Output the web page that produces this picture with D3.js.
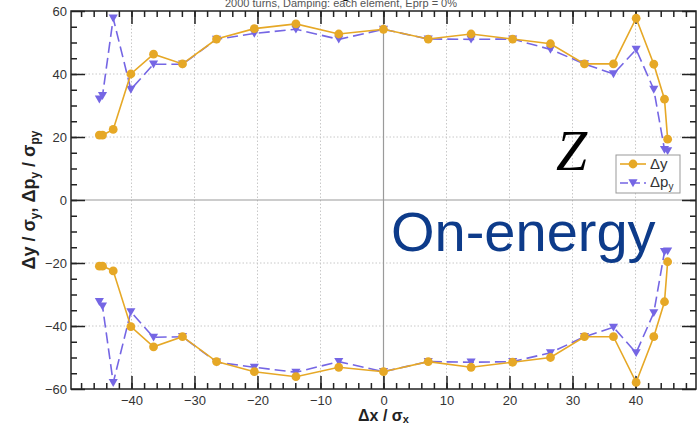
<!DOCTYPE html>
<html>
<head>
<meta charset="UTF-8"/>
<script src="https://d3js.org/d3.v7.min.js"></script>
<style>
body { margin: 0; background: #fff; }
text { font-family: "Liberation Sans", Arial, sans-serif; }
</style>
</head>
<body>
<svg id='big' width=698 height=427></svg>
<script>
'use strict';

// beam offsets, shared by all four curves
var xs = [-45.1, -44.6, -42.9, -40.1, -36.5, -31.9, -26.5, -20.5, -13.9, -7.1, 0,
          7.1, 13.9, 20.5, 26.5, 31.9, 36.5, 40.1, 42.9, 44.6, 45.1];

var dyUpper  = [20.6, 20.6, 22.4, 40.0, 46.3, 43.2, 51.1, 54.4, 55.9, 52.7, 54.2,
                51.1, 52.7, 51.1, 49.6, 43.2, 43.2, 57.7, 43.1, 32.0, 19.3];
var dpyUpper = [32.0, 33.1, 57.7, 35.1, 43.1, 43.1, 51.0, 52.9, 54.2, 51.0, 54.2,
                51.1, 51.0, 51.1, 47.8, 43.2, 40.0, 47.8, 35.1, 16.0, 15.6];
var dyLower  = [-21.0, -21.0, -22.5, -40.2, -46.6, -43.4, -51.3, -54.5, -56.1, -53.1, -54.5,
                -51.3, -53.1, -51.5, -50.0, -43.4, -43.4, -57.9, -43.4, -32.3, -19.6];
var dpyLower = [-32.3, -33.7, -58.0, -35.5, -43.6, -43.4, -51.5, -53.1, -54.7, -51.3, -54.5,
                -51.3, -51.5, -51.3, -48.5, -43.4, -40.4, -48.5, -35.8, -16.4, -16.2];

var xTicks = [-40, -30, -20, -10, 0, 10, 20, 30, 40];
var yTicks = [-60, -40, -20, 0, 20, 40, 60];

var orange = '#e6a826';
var blue = '#7566e4';

var svg = d3.select('#big');
var pLeft = 71, pRight = 696, pTop = 11, pBottom = 389;

var sx = d3.scaleLinear().domain([-49.6, 49.6]).range([pLeft, pRight]);
var sy = d3.scaleLinear().domain([-60, 60]).range([pBottom, pTop]);

// title, mostly cut off at the top
svg.append('text')
  .attr('x', 346).attr('y', -2)
  .attr('text-anchor', 'middle')
  .attr('font-size', 16).attr('font-weight', 'bold')
  .attr('fill', '#111')
  .text('g');
svg.append('text')
  .attr('x', 341).attr('y', 7)
  .attr('text-anchor', 'middle')
  .attr('font-size', 11)
  .attr('fill', '#555')
  .text('2000 turns, Damping: each element, Eprp = 0%');

// grid
svg.append('g').selectAll('line')
  .data(xTicks.filter(function(d){ return d != 0; }))
  .enter().append('line')
  .attr('x1', function(d){ return sx(d); })
  .attr('x2', function(d){ return sx(d); })
  .attr('y1', pTop).attr('y2', pBottom)
  .attr('stroke', '#c8c8c8').attr('stroke-dasharray', '1.5,2');
svg.append('g').selectAll('line')
  .data(yTicks.filter(function(d){ return d != 0 && Math.abs(d) != 60; }))
  .enter().append('line')
  .attr('y1', function(d){ return sy(d); })
  .attr('y2', function(d){ return sy(d); })
  .attr('x1', pLeft).attr('x2', pRight)
  .attr('stroke', '#c8c8c8').attr('stroke-dasharray', '1.5,2');

// zero lines
svg.append('line')
  .attr('x1', sx(0)).attr('x2', sx(0)).attr('y1', pTop).attr('y2', pBottom)
  .attr('stroke', '#9a9a9a').attr('stroke-width', 1.2);
svg.append('line')
  .attr('x1', pLeft).attr('x2', pRight).attr('y1', sy(0)).attr('y2', sy(0))
  .attr('stroke', '#9a9a9a').attr('stroke-width', 1.2);

// axes, ticks pointing inward
function axisStyle(g){
  g.select('.domain').remove();
  g.selectAll('.tick line').attr('stroke', '#222').attr('stroke-width', 1.5);
  g.selectAll('.tick text').attr('font-size', 13).attr('fill', '#333');
}

var xMinor = d3.range(-48, 49, 2);
var yMinor = d3.range(-55, 56, 5);

svg.append('g').attr('transform', 'translate(0,' + pBottom + ')')
  .call(d3.axisBottom(sx).tickValues(xMinor).tickSize(-6).tickFormat(''))
  .call(axisStyle);
svg.append('g').attr('transform', 'translate(0,' + pBottom + ')')
  .call(d3.axisBottom(sx).tickValues(xTicks).tickSize(-13).tickPadding(7))
  .call(axisStyle);
svg.append('g').attr('transform', 'translate(0,' + pTop + ')')
  .call(d3.axisTop(sx).tickValues(xMinor).tickSize(-6).tickFormat(''))
  .call(axisStyle);
svg.append('g').attr('transform', 'translate(0,' + pTop + ')')
  .call(d3.axisTop(sx).tickValues(xTicks).tickSize(-13).tickFormat(''))
  .call(axisStyle);

svg.append('g').attr('transform', 'translate(' + pLeft + ',0)')
  .call(d3.axisLeft(sy).tickValues(yMinor).tickSize(-6).tickFormat(''))
  .call(axisStyle);
svg.append('g').attr('transform', 'translate(' + pLeft + ',0)')
  .call(d3.axisLeft(sy).tickValues(yTicks).tickSize(-14).tickPadding(4))
  .call(axisStyle);
svg.append('g').attr('transform', 'translate(' + pRight + ',0)')
  .call(d3.axisRight(sy).tickValues(yMinor).tickSize(-6).tickFormat(''))
  .call(axisStyle);
svg.append('g').attr('transform', 'translate(' + pRight + ',0)')
  .call(d3.axisRight(sy).tickValues(yTicks).tickSize(-14).tickFormat(''))
  .call(axisStyle);

// frame
svg.append('rect')
  .attr('x', pLeft).attr('y', pTop)
  .attr('width', pRight - pLeft).attr('height', pBottom - pTop)
  .attr('fill', 'none').attr('stroke', '#222').attr('stroke-width', 1.5);

// curves
var line = d3.line()
  .x(function(d){ return sx(d[0]); })
  .y(function(d){ return sy(d[1]); });

var tri = d3.symbol().type(d3.symbolTriangle).size(36);

function drawSeries(ys, color, dashed){
  var pts = xs.map(function(x, i){ return [x, ys[i]]; });
  svg.append('path')
    .datum(pts)
    .attr('d', line)
    .attr('fill', 'none')
    .attr('stroke', color)
    .attr('stroke-width', 1.6)
    .attr('stroke-dasharray', dashed ? '11,5' : null);
  if(dashed){
    svg.append('g').selectAll('path')
      .data(pts).enter().append('path')
      .attr('d', tri)
      .attr('transform', function(d){
        return 'translate(' + sx(d[0]) + ',' + (sy(d[1]) - 1) + ') rotate(180)';
      })
      .attr('fill', color);
  }else{
    svg.append('g').selectAll('circle')
      .data(pts).enter().append('circle')
      .attr('cx', function(d){ return sx(d[0]); })
      .attr('cy', function(d){ return sy(d[1]); })
      .attr('r', 4.4)
      .attr('fill', color);
  }
}

drawSeries(dpyUpper, blue, true);
drawSeries(dyUpper, orange, false);
drawSeries(dpyLower, blue, true);
drawSeries(dyLower, orange, false);

// annotations
svg.append('text')
  .attr('x', 556).attr('y', 170)
  .style('font-family', '"Liberation Serif", "DejaVu Serif", serif')
  .style('font-style', 'italic')
  .attr('font-size', 56)
  .attr('fill', '#000')
  .text('Z');

svg.append('text')
  .attr('x', 391).attr('y', 251)
  .attr('font-size', 56)
  .attr('fill', '#0d3b8a')
  .text('On-energy');

// legend
var lg = svg.append('g').attr('transform', 'translate(616,155)');
lg.append('rect')
  .attr('width', 64).attr('height', 38)
  .attr('fill', '#fff').attr('stroke', '#999').attr('stroke-width', 1);
lg.append('line').attr('x1', 4).attr('x2', 30).attr('y1', 9).attr('y2', 9)
  .attr('stroke', orange).attr('stroke-width', 1.6);
lg.append('circle').attr('cx', 17).attr('cy', 9).attr('r', 4.4).attr('fill', orange);
lg.append('line').attr('x1', 4).attr('x2', 30).attr('y1', 28).attr('y2', 28)
  .attr('stroke', blue).attr('stroke-width', 1.6).attr('stroke-dasharray', '8,4');
lg.append('path').attr('d', tri)
  .attr('transform', 'translate(17,27) rotate(180)').attr('fill', blue);
lg.append('text').attr('x', 34).attr('y', 14).attr('font-size', 15).attr('fill', '#333')
  .text('Δy');
var t2 = lg.append('text').attr('x', 34).attr('y', 32).attr('font-size', 15).attr('fill', '#333');
t2.append('tspan').text('Δp');
t2.append('tspan').attr('font-size', 10).attr('dy', 3).text('y');

// axis titles
var xl = svg.append('text')
  .attr('x', sx(0)).attr('y', 421)
  .attr('text-anchor', 'middle')
  .attr('font-size', 16).attr('font-weight', 'bold').attr('fill', '#222');
xl.append('tspan').text('Δx / σ');
xl.append('tspan').attr('font-size', 11).attr('dy', 2).text('x');

var yl = svg.append('text')
  .attr('transform', 'translate(35,' + sy(0) + ') rotate(-90)')
  .attr('text-anchor', 'middle')
  .attr('font-size', 18).attr('font-weight', 'bold').attr('fill', '#222');
yl.append('tspan').text('Δy / σ');
yl.append('tspan').attr('font-size', 12).attr('dy', 4).text('y');
yl.append('tspan').attr('dy', -4).text(', Δp');
yl.append('tspan').attr('font-size', 12).attr('dy', 4).text('y');
yl.append('tspan').attr('dy', -4).text(' / σ');
yl.append('tspan').attr('font-size', 12).attr('dy', 4).text('py');
</script>
</body>
</html>
